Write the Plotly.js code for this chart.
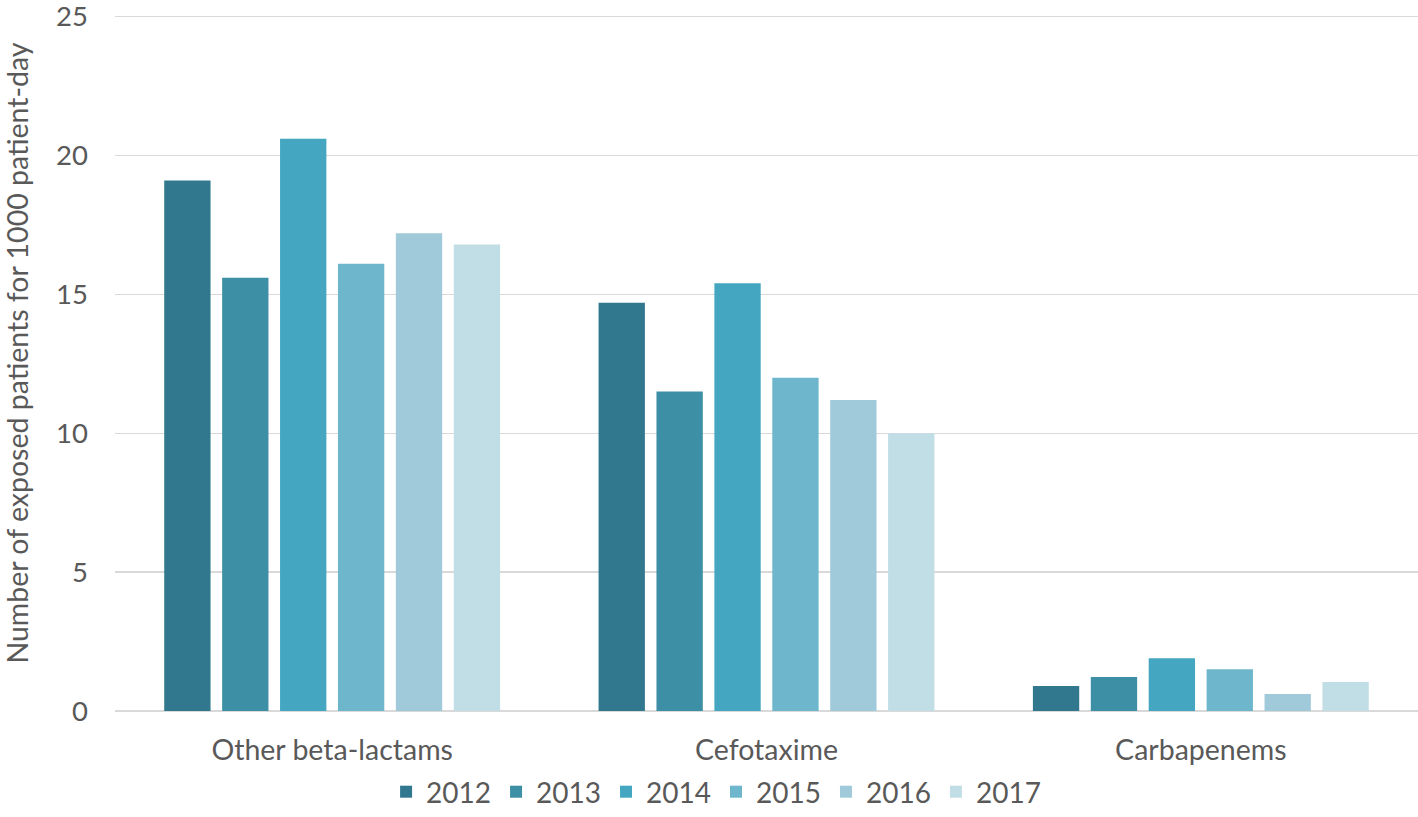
<!DOCTYPE html>
<html>
<head>
<meta charset="utf-8">
<script src="https://cdn.plot.ly/plotly-3.0.1.min.js"></script>
<style>html,body{margin:0;padding:0;background:#fff;}#chart{width:1418px;height:817px;}</style>
</head>
<body>
<div id="chart"></div>
<script>
const categories = ["Other beta-lactams", "Cefotaxime", "Carbapenems"];
const years = ["2012", "2013", "2014", "2015", "2016", "2017"];
const v2012 = [19.1, 14.7, 0.9];
const v2013 = [15.6, 11.5, 1.22];
const v2014 = [20.6, 15.4, 1.9];
const v2015 = [16.1, 12.0, 1.5];
const v2016 = [17.2, 11.2, 0.61];
const v2017 = [16.8, 10.0, 1.04];
const seriesValues = [v2012, v2013, v2014, v2015, v2016, v2017];
const yTicks = [0, 5, 10, 15, 20, 25];
const colors = ["#31788f", "#3d8fa5", "#44a6c0", "#6db6cc", "#a0cad9", "#c1dde6"];
const yTitle = "Number of exposed patients for 1000 patient-day";

const font = "Lato, 'Open Sans', sans-serif";
const traces = years.map((y, i) => ({
  type: "bar",
  name: y,
  x: categories,
  y: seriesValues[i],
  marker: {color: colors[i], line: {width: 0}},
  hoverinfo: "x+y+name"
}));

const layout = {
  width: 1418, height: 817,
  margin: {l: 115, r: 0, t: 0, b: 106, autoexpand: false},
  paper_bgcolor: "#ffffff", plot_bgcolor: "#ffffff",
  font: {family: font, color: "#595959", size: 28},
  barmode: "group",
  bargap: 0.2,
  bargroupgap: 0.2,
  xaxis: {
    type: "category",
    showgrid: false,
    showline: false,
    zeroline: false,
    ticks: "",
    automargin: false,
    ticklabelstandoff: 19,
    tickfont: {size: 28.5, color: "#595959", family: font}
  },
  yaxis: {
    range: [0, 25.6],
    tickvals: yTicks,
    ticktext: yTicks.map(String),
    ticklabeloverflow: "allow",
    showgrid: true,
    gridcolor: "#d9d9d9",
    gridwidth: 1.5,
    zeroline: true,
    zerolinecolor: "#d9d9d9",
    zerolinewidth: 1.5,
    showline: false,
    ticks: "",
    automargin: false,
    ticklabelstandoff: 26,
    tickfont: {size: 27.5, color: "#595959", family: font}
  },
  annotations: [{
    text: yTitle,
    textangle: -90,
    xref: "paper", yref: "paper",
    x: -0.0755, xanchor: "center",
    y: (711 - 353) / 711, yanchor: "middle",
    showarrow: false,
    font: {size: 28.5, color: "#595959", family: font}
  }],
  showlegend: true,
  legend: {
    orientation: "h",
    xref: "container", yref: "container",
    x: 0.505, xanchor: "center",
    y: 0, yanchor: "bottom",
    font: {size: 28, color: "#595959", family: font},
    itemwidth: 30,
    tracegroupgap: 0
  }
};

Plotly.newPlot("chart", traces, layout, {displayModeBar: false, staticPlot: true});
</script>
</body>
</html>
